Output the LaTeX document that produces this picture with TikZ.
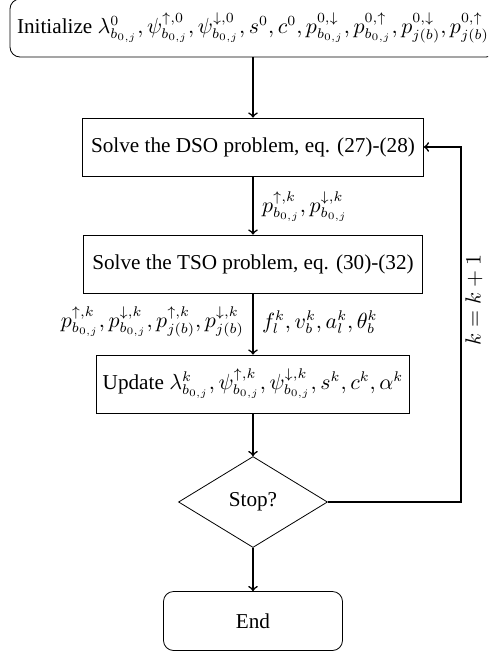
\documentclass[tikz,border=0pt]{standalone}
\usepackage{amsmath}
\usepackage[no-math]{fontspec}
\setmainfont{Liberation Serif}
\usepackage{tikz}
\usetikzlibrary{shapes.geometric}

\begin{document}
\begin{tikzpicture}[x=0.5pt,y=-0.5pt,font=\fontsize{10.6}{12.7}\selectfont]
  \tikzstyle{block}=[draw,thin,minimum height=29pt,inner sep=2pt]
  \tikzstyle{flow}=[->,thick]
  \clip (0,0) rectangle (488,654);
  \node[block,rounded corners=5pt,minimum width=243pt] (F_1) at (253,28)
    {Initialize $\lambda^0_{b_{0,j}}, \psi^{\uparrow,0}_{b_{0,j}}, \psi^{\downarrow,0}_{b_{0,j}}, s^0, c^0, p^{0,\downarrow}_{b_{0,j}}, p^{0,\uparrow}_{b_{0,j}}, p^{0,\downarrow}_{j(b)}, p^{0,\uparrow}_{j(b)}$};
  \node[block,minimum width=170.5pt] (F_2) at (253,147) {Solve the DSO problem, eq. (27)-(28)};
  \node[block,minimum width=169.5pt] (F_3) at (253,264) {Solve the TSO problem, eq. (30)-(32)};
  \node[block,minimum width=156.5pt] (F_4) at (253,384)
    {Update $\lambda^k_{b_{0,j}}, \psi^{\uparrow,k}_{b_{0,j}}, \psi^{\downarrow,k}_{b_{0,j}}, s^k, c^k, \alpha^k$};
  \node[draw,thin,diamond,minimum width=74.5pt,minimum height=45.5pt,inner sep=0pt] (F_5) at (253,502) {Stop?};
  \node[block,rounded corners=5pt,minimum width=89.5pt,minimum height=29.5pt] (F_6) at (253,621) {End};
  \coordinate (K) at (461,502);
  \draw[flow] (F_1) -- (F_2);
  \draw[flow] (F_2) -- (F_3);
  \draw[flow] (F_3) -- (F_4);
  \draw[flow] (F_4) -- (F_5);
  \draw[flow] (F_5) -- (F_6);
  \draw[flow] (F_5) -- (K) |- (F_2);
  % labels on the connectors
  \node[anchor=west] (L_1) at (255,207) {$p^{\uparrow,k}_{b_{0,j}}, p^{\downarrow,k}_{b_{0,j}}$};
  \node[anchor=east] (L_2) at (251,322) {$p^{\uparrow,k}_{b_{0,j}}, p^{\downarrow,k}_{b_{0,j}}, p^{\uparrow,k}_{j(b)}, p^{\downarrow,k}_{j(b)}$};
  \node[anchor=west] (L_3) at (255,322) {$f^k_l, v^k_b, a^k_l, \theta^k_b$};
  \node[rotate=90] (L_4) at (474,300) {$k = k+1$};
\end{tikzpicture}
\end{document}
